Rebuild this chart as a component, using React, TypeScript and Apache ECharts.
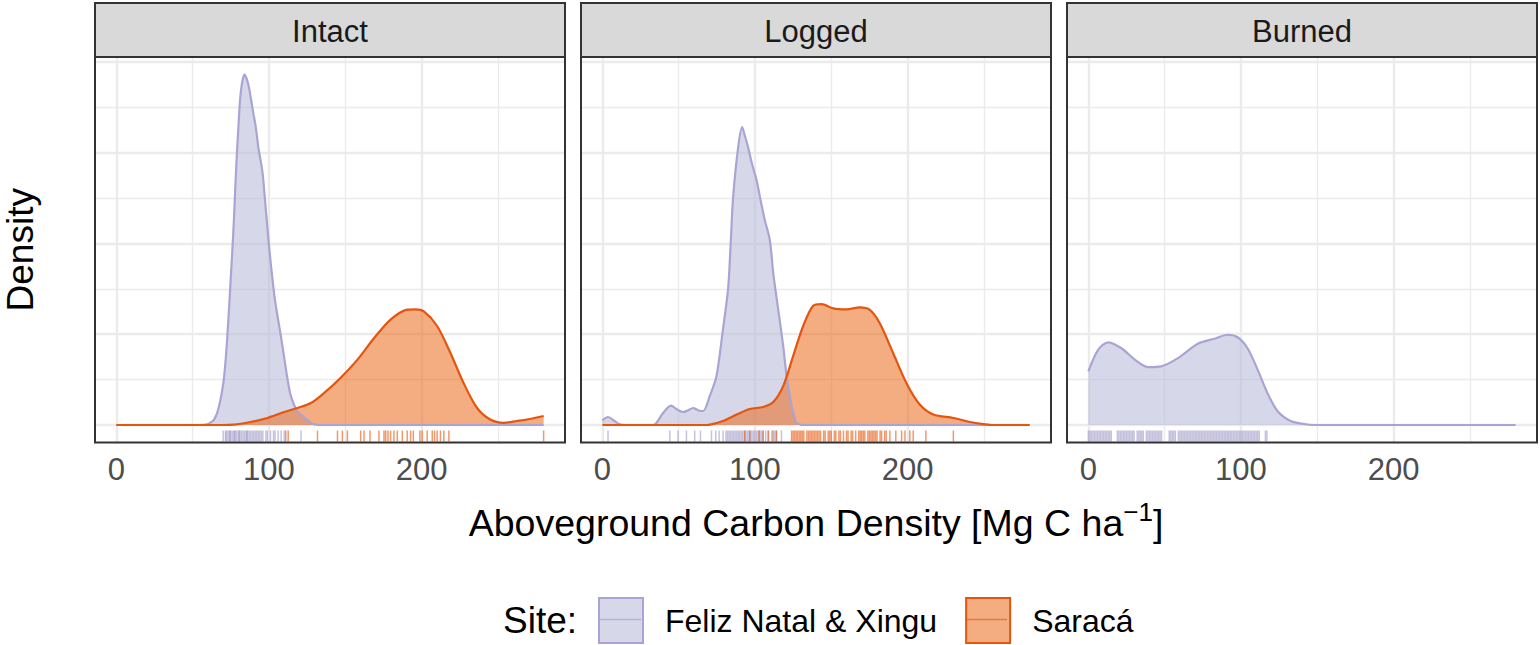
import React, { useEffect, useRef } from "react";
import * as echarts from "echarts";

const FONT = "'Liberation Sans', Arial, Helvetica, sans-serif";

const panelNames = ["Intact", "Logged", "Burned"];
const siteNames = ["Feliz Natal & Xingu", "Saracá"];

const xTickValues = [0, 100, 200];
const xGridValues = [0, 50, 100, 150, 200, 250];
const yGridValues = [0, 5, 10, 15, 20, 25, 30, 35, 40];

// Kernel density curves: [carbon density (Mg C/ha), density x 1000]
const intactFeliz = [[0,0],[55,0],[60,0.1],[62,0.3],[64,0.6],[66,1.3],[68,2.6],[70,4.5],[71,6.0],[72,8.0],[73,10.5],[74,13.3],[75,16.3],[76,19.2],[77,22.5],[78,26.4],[79,29.9],[80,32.9],[81,35.7],[82,37.3],[83,38.2],[84,38.6],[85,38.3],[86,37.8],[87,37.1],[88,36.1],[89,35.1],[90,34.1],[91,33.2],[92,32.0],[93,30.6],[94,29.6],[95,28.7],[96,27.5],[97,25.6],[98,23.6],[99,21.7],[100,19.8],[101,18.1],[102.4,15.9],[104,13.7],[106,11.6],[108,9.6],[110,7.4],[112,5.2],[114,3.4],[116,2.4],[118,1.65],[120,1.3],[122,1.0],[124,0.7],[126,0.45],[128,0.15],[130,0.05],[132,0],[280,0]];
const intactSaraca = [[0,0],[70,0],[77,0.03],[88,0.33],[99,0.77],[110,1.43],[118.7,1.87],[127.5,2.42],[136,3.5],[147,5.2],[158,7.2],[168.8,9.55],[179.7,11.6],[190.6,12.7],[196,12.74],[201.5,12.5],[210.2,10.9],[219,7.9],[227.6,4.6],[236.4,1.87],[245,0.6],[253.8,0.24],[262.5,0.44],[271,0.66],[280,0.99]];
const loggedFeliz = [[0,0.5],[3.7,0.88],[8,0.44],[11,0.11],[15,0],[33,0],[35.4,0.22],[39.8,1.32],[45,2.14],[49,1.7],[53,1.43],[56,1.6],[59.5,1.87],[63,1.6],[66,1.54],[70.4,3.2],[74.8,5.4],[79,10.5],[82.4,15.0],[84,19.7],[85.7,25.1],[89,30.6],[91.6,32.8],[93.5,31.8],[95.5,30.6],[98,28.8],[101,27.0],[104,24.5],[106.4,22.6],[109.7,20.4],[112,16.7],[114,14.2],[116,11.8],[118.5,8.7],[120.7,5.4],[122.5,3.6],[124,2.1],[126,0.8],[127,0.27],[129,0.1],[131,0],[280,0]];
const loggedSaraca = [[0,0],[68,0],[72,0.1],[79,0.44],[88,1.15],[96.6,1.76],[105.4,1.98],[112,2.53],[118.5,4.28],[125,7.58],[131.6,10.9],[138,13.1],[143.6,13.3],[151.3,12.85],[160,12.74],[168.7,12.96],[175.3,12.68],[181.8,11.2],[190.6,7.9],[199.3,4.6],[208,2.25],[216.9,1.15],[230,0.77],[240.9,0.33],[249.5,0.09],[255,0],[280,0]];
const burnedFeliz = [[0,5.9],[6.5,8.3],[13,9.1],[21.7,8.45],[30.4,7.2],[39,6.37],[47.8,6.46],[58.7,7.36],[71.7,8.95],[82.6,9.5],[91.3,9.94],[97.8,9.66],[104.3,8.45],[110.9,6.1],[117.4,3.5],[123.9,1.54],[132.6,0.44],[143.5,0.05],[150,0],[280,0]];

// Rug observations (Mg C/ha)
const intactFelizRug = [70,71.5,72,73,74,74.5,75,76,77,77.5,78,79,80,80.5,81,82,83,84,85,85.5,86,87,88,89,90,91,92,93,94,95,96,98,99,101,103,104,106,108,110,121];
const intactSaracaRug = [111,112.6,131.8,144.9,148.1,151.4,160.1,162.3,166.2,172.1,175.4,176.5,178,179.7,181.9,184.1,187.4,190.6,192.8,194.6,198.9,200.4,203.7,207,208.5,210.2,212.4,214.6,217.9,280];
const loggedFelizRug = [3.7,44.2,49.6,55.1,60.5,64.3,71.5,74.3,76.5,79.1,81,82,83,84,85,86,87,88,89,90,91,92,93,94,95,96,97,98,99,100,101,102,103,104,105,107,109,111,113,114,117.4];
const loggedSaracaRug = [93.3,96.6,102.7,105.4,108.6,111.9,114.1,124,125,126,127,128,129,130,131,132,134,135,136,137,138,139,140,141,142,143,145,146,148,149,150,152,153,155,156,158,160,161,163,164,166,168,169,170,171,172,174,175,176,177,178,179,180,182,183,185,186,188.4,192.3,196.1,198.3,201.5,203.7,212,230];
const burnedFelizRug = [0,1,2,3,4,5,6,7,8,9,10,11,12,13,14,15,19,20,21,22,23,24,25,26,27,28,29,30,32,33,34,35,36,38,39,40,41,42,43,44,45,46,47,48,53,54,55,56,57,59,60,61,62,63,64,65,66,67,68,69,70,71,72,73,74,75,76,77,78,79,80,81,82,83,84,85,86,87,88,89,90,91,92,93,94,95,96,97,98,99,100,101,102,103,104,105,106,107,108,109,110,111,112,116,117];

const panelData = [
  { feliz: intactFeliz, saraca: intactSaraca, felizRug: intactFelizRug, saracaRug: intactSaracaRug },
  { feliz: loggedFeliz, saraca: loggedSaraca, felizRug: loggedFelizRug, saracaRug: loggedSaracaRug },
  { feliz: burnedFeliz, saraca: null, felizRug: burnedFelizRug, saracaRug: null },
];

const X_MIN = -14;
const X_MAX = 294;
const Y_MIN = -1.93;
const Y_MAX = 40.53;

const GRID_LEFTS = [95, 581, 1067];
const GRID_W = 470;
const GRID_TOP = 57;
const GRID_H = 385.5;

const PURPLE_LINE = "#a9a4d3";
const PURPLE_FILL = "rgba(188,189,220,0.6)";
const PURPLE_RUG = "#9e9ac8";
const ORANGE_LINE = "#e6550d";
const ORANGE_FILL = "rgba(234,106,26,0.55)";
const ORANGE_RUG = "#e6550d";

function rugSeries(values: number[], i: number, color: string, name: string) {
  return {
    type: "custom",
    name,
    coordinateSystem: "cartesian2d",
    xAxisIndex: i,
    yAxisIndex: i,
    silent: true,
    z: 3,
    encode: { x: 0, y: 1 },
    data: values.map((v) => [v, 0]),
    renderItem: (_params: any, api: any) => {
      const p = api.coord([api.value(0), Y_MIN]);
      return {
        type: "line",
        shape: { x1: p[0], y1: p[1] - 1, x2: p[0], y2: p[1] - 12 },
        style: { stroke: color, lineWidth: 1.5, opacity: 0.6 },
      };
    },
  };
}

function densitySeries(data: number[][], i: number, name: string, line: string, fill: string, withGrid: boolean) {
  const s: any = {
    type: "line",
    name,
    xAxisIndex: i,
    yAxisIndex: i,
    data,
    smooth: 0.3,
    symbol: "none",
    silent: true,
    z: 2,
    lineStyle: { color: line, width: 2.2 },
    itemStyle: { color: line },
    areaStyle: { color: fill, opacity: 1 },
  };
  if (withGrid) {
    s.markLine = {
      silent: true,
      z: 1,
      symbol: ["none", "none"],
      label: { show: false },
      emphasis: { disabled: true },
      animation: false,
      data: [
        ...xGridValues.map((v) => ({ xAxis: v, lineStyle: { type: "solid", color: "#ebebeb", width: v % 100 === 0 ? 2.4 : 1.4 } })),
        ...yGridValues.map((v) => ({ yAxis: v, lineStyle: { type: "solid", color: "#ebebeb", width: v % 10 === 0 ? 2.4 : 1.4 } })),
      ],
    };
  }
  return s;
}

export default function App() {
  const ref = useRef<HTMLDivElement>(null);

  useEffect(() => {
    if (!ref.current) return;
    const chart = echarts.init(ref.current, undefined, { renderer: "svg" });

    const grid = GRID_LEFTS.map((l) => ({ left: l, top: GRID_TOP, width: GRID_W, height: GRID_H, containLabel: false }));
    const xAxis = GRID_LEFTS.map((_, i) => ({
      type: "value",
      gridIndex: i,
      min: X_MIN,
      max: X_MAX,
      axisLine: { show: false },
      axisTick: { show: true, customValues: xTickValues, length: 5, lineStyle: { color: "#333333", width: 2 } },
      axisLabel: { show: true, customValues: xTickValues, fontSize: 31, color: "#4d4d4d", fontFamily: FONT, margin: 11 },
      splitLine: { show: false },
    }));
    const yAxis = GRID_LEFTS.map((_, i) => {
      const ax: any = {
        type: "value",
        gridIndex: i,
        min: Y_MIN,
        max: Y_MAX,
        axisLine: { show: false },
        axisTick: { show: false },
        axisLabel: { show: false },
        splitLine: { show: false },
      };
      if (i === 0) {
        ax.name = "Density";
        ax.nameLocation = "middle";
        ax.nameRotate = 90;
        ax.nameGap = 56;
        ax.nameTextStyle = { fontSize: 37, color: "#000", fontFamily: FONT };
      }
      return ax;
    });

    const series: any[] = [];
    panelData.forEach((p, i) => {
      series.push(densitySeries(p.feliz, i, siteNames[0], PURPLE_LINE, PURPLE_FILL, true));
      if (p.saraca) series.push(densitySeries(p.saraca, i, siteNames[1], ORANGE_LINE, ORANGE_FILL, false));
      series.push(rugSeries(p.felizRug, i, PURPLE_RUG, "rug-" + siteNames[0]));
      if (p.saracaRug) series.push(rugSeries(p.saracaRug, i, ORANGE_RUG, "rug-" + siteNames[1]));
    });

    const graphics: any[] = [];
    GRID_LEFTS.forEach((l, i) => {
      graphics.push({
        type: "rect",
        z: 100,
        shape: { x: l, y: 3, width: GRID_W, height: GRID_TOP - 3 },
        style: { fill: "#d9d9d9", stroke: "#333333", lineWidth: 2 },
      });
      graphics.push({
        type: "text",
        z: 101,
        x: l + GRID_W / 2,
        y: 31,
        style: { text: panelNames[i], fontSize: 31, fontFamily: FONT, fill: "#1a1a1a", align: "center", verticalAlign: "middle" },
      });
      graphics.push({
        type: "rect",
        z: 100,
        shape: { x: l, y: GRID_TOP, width: GRID_W, height: GRID_H },
        style: { fill: "none", stroke: "#333333", lineWidth: 2 },
      });
    });
    graphics.push({
      type: "text",
      z: 101,
      x: 816,
      y: 523,
      style: {
        text: "Aboveground Carbon Density [Mg C ha{sup|−1}]",
        fontSize: 37.5,
        lineHeight: 48,
        fontFamily: FONT,
        fill: "#000",
        align: "center",
        verticalAlign: "middle",
        rich: { sup: { fontSize: 26, lineHeight: 18, verticalAlign: "top", fontFamily: FONT, fill: "#000" } },
      },
    });
    graphics.push({
      type: "text",
      z: 101,
      x: 503,
      y: 620,
      style: { text: "Site:", fontSize: 37, fontFamily: FONT, fill: "#000", align: "left", verticalAlign: "middle" },
    });
    graphics.push({
      type: "line",
      z: 101,
      shape: { x1: 599, y1: 619.5, x2: 641, y2: 619.5 },
      style: { stroke: PURPLE_RUG, lineWidth: 1.5, opacity: 0.6 },
    });
    graphics.push({
      type: "line",
      z: 101,
      shape: { x1: 965, y1: 619.5, x2: 1007, y2: 619.5 },
      style: { stroke: ORANGE_RUG, lineWidth: 1.5, opacity: 0.6 },
    });

    chart.setOption({
      animation: false,
      textStyle: { fontFamily: FONT },
      grid,
      xAxis,
      yAxis,
      series,
      graphic: graphics,
      legend: {
        left: 598,
        top: 597,
        padding: 0,
        itemWidth: 44,
        itemHeight: 45,
        itemGap: 28,
        selectedMode: false,
        textStyle: { fontSize: 32, color: "#000", fontFamily: FONT, padding: [0, 0, 0, 17] },
        data: [
          { name: siteNames[0], icon: "rect", itemStyle: { color: PURPLE_FILL, borderColor: PURPLE_LINE, borderWidth: 2 } },
          { name: siteNames[1], icon: "rect", itemStyle: { color: ORANGE_FILL, borderColor: ORANGE_LINE, borderWidth: 2 } },
        ],
      },
    });

    return () => chart.dispose();
  }, []);

  return (
    <div
      ref={ref}
      style={{ position: "fixed", left: 0, top: 0, width: 1540, height: 645, background: "#fff" }}
    />
  );
}
